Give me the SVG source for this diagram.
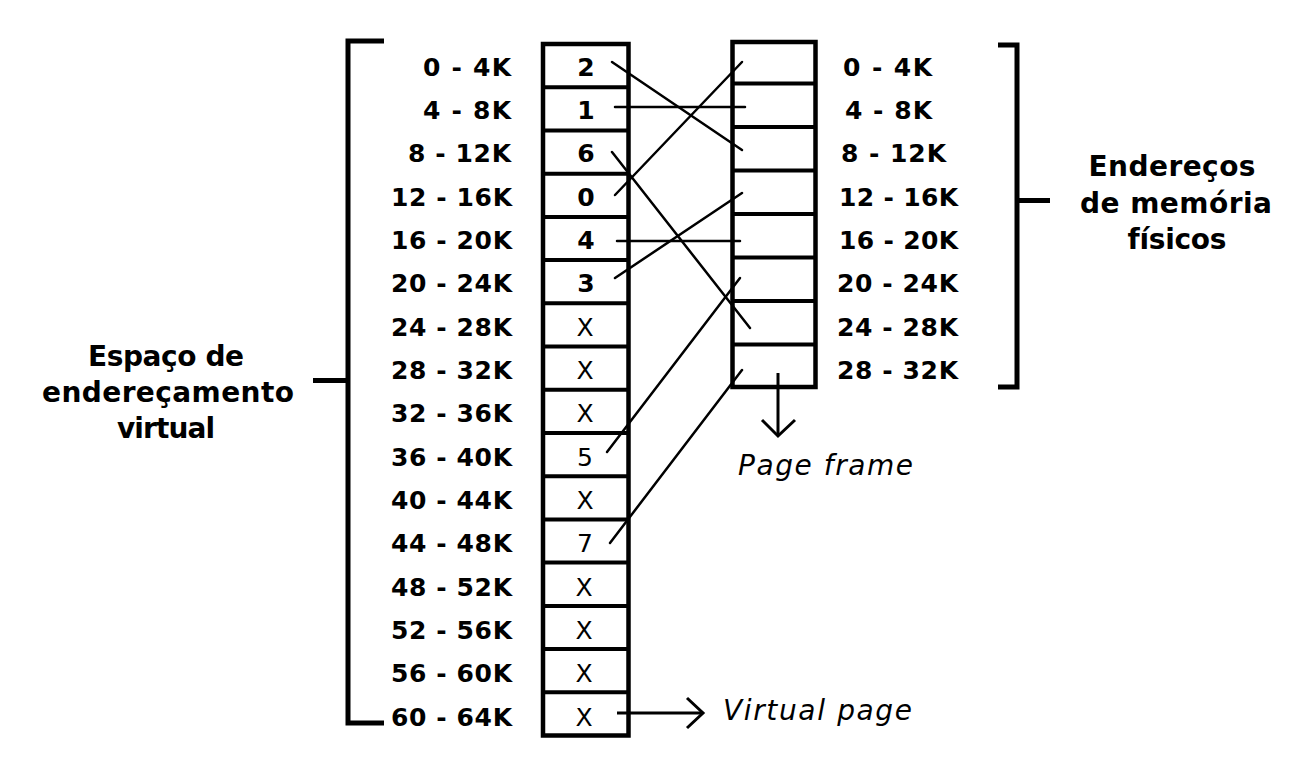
<svg xmlns="http://www.w3.org/2000/svg" width="1315" height="761" viewBox="0 0 1315 761">
<style>
text{font-family:"DejaVu Sans","Liberation Sans",sans-serif;fill:#000}
.lbl{font-size:25px;font-weight:bold}
.num{font-size:25px;font-weight:bold;text-anchor:middle}
.xn{font-size:25px;font-weight:normal;text-anchor:middle}
.side{font-size:28px;font-weight:bold;text-anchor:middle}
.it{font-size:28px;font-style:italic}
.box{fill:#fff;stroke:#000;stroke-width:4.5}
.row{stroke:#000;stroke-width:4}
.br{fill:none;stroke:#000;stroke-width:5}
.con{fill:none;stroke:#000;stroke-width:2.5;stroke-linecap:round}
.arr{fill:none;stroke:#000;stroke-width:3}
</style>
<rect width="1315" height="761" fill="#fff"/>

<g id="virtual-space">
  <path class="br" d="M384,41 H348 V723 H384"/>
  <path class="br" d="M313,380.5 H348"/>
  <text class="side" x="166" y="366" textLength="156" lengthAdjust="spacing">Espaço de</text>
  <text class="side" x="168" y="402" textLength="252" lengthAdjust="spacing">endereçamento</text>
  <text class="side" x="166" y="438" textLength="98" lengthAdjust="spacing">virtual</text>
</g>

<g id="virtual-labels">
  <text class="lbl" x="423" y="75.5" textLength="88" lengthAdjust="spacing">0 - 4K</text>
  <text class="lbl" x="423" y="118.8" textLength="88" lengthAdjust="spacing">4 - 8K</text>
  <text class="lbl" x="408" y="162.2" textLength="103" lengthAdjust="spacing">8 - 12K</text>
  <text class="lbl" x="391" y="205.5" textLength="121" lengthAdjust="spacing">12 - 16K</text>
  <text class="lbl" x="391" y="248.8" textLength="121" lengthAdjust="spacing">16 - 20K</text>
  <text class="lbl" x="391" y="292.2" textLength="121" lengthAdjust="spacing">20 - 24K</text>
  <text class="lbl" x="391" y="335.5" textLength="121" lengthAdjust="spacing">24 - 28K</text>
  <text class="lbl" x="391" y="378.8" textLength="121" lengthAdjust="spacing">28 - 32K</text>
  <text class="lbl" x="391" y="422.1" textLength="121" lengthAdjust="spacing">32 - 36K</text>
  <text class="lbl" x="391" y="465.5" textLength="121" lengthAdjust="spacing">36 - 40K</text>
  <text class="lbl" x="391" y="508.8" textLength="121" lengthAdjust="spacing">40 - 44K</text>
  <text class="lbl" x="391" y="552.1" textLength="121" lengthAdjust="spacing">44 - 48K</text>
  <text class="lbl" x="391" y="595.5" textLength="121" lengthAdjust="spacing">48 - 52K</text>
  <text class="lbl" x="391" y="638.8" textLength="121" lengthAdjust="spacing">52 - 56K</text>
  <text class="lbl" x="391" y="682.1" textLength="121" lengthAdjust="spacing">56 - 60K</text>
  <text class="lbl" x="391" y="725.5" textLength="121" lengthAdjust="spacing">60 - 64K</text>
</g>

<g id="virtual-table">
  <rect class="box" x="543" y="44" width="85.5" height="691.5"/>
  <path class="row" d="M543,87.2H628.5M543,130.4H628.5M543,173.7H628.5M543,216.9H628.5M543,260.1H628.5M543,303.3H628.5M543,346.5H628.5M543,389.8H628.5M543,433H628.5M543,476.2H628.5M543,519.4H628.5M543,562.6H628.5M543,605.9H628.5M543,649.1H628.5M543,692.3H628.5"/>
  <text class="num" x="586" y="75.5">2</text>
  <text class="num" x="586" y="118.8">1</text>
  <text class="num" x="586" y="162.2">6</text>
  <text class="num" x="586" y="205.5">0</text>
  <text class="num" x="586" y="248.8">4</text>
  <text class="num" x="586" y="292.2">3</text>
  <text class="xn" x="585" y="335.5">X</text>
  <text class="xn" x="585" y="378.8">X</text>
  <text class="xn" x="585" y="422.1">X</text>
  <text class="xn" x="585" y="465.5">5</text>
  <text class="xn" x="585" y="508.8">X</text>
  <text class="xn" x="585" y="552.1">7</text>
  <text class="xn" x="584" y="595.5">X</text>
  <text class="xn" x="584" y="638.8">X</text>
  <text class="xn" x="584" y="682.1">X</text>
  <text class="xn" x="584" y="725.5">X</text>
</g>

<g id="physical-table">
  <rect class="box" x="732.5" y="42" width="83" height="345"/>
  <path class="row" d="M732.5,83.5H815.5M732.5,127H815.5M732.5,170.5H815.5M732.5,214H815.5M732.5,257.5H815.5M732.5,301H815.5M732.5,344.5H815.5"/>
</g>

<g id="physical-labels">
  <text class="lbl" x="843" y="75.5" textLength="89" lengthAdjust="spacing">0 - 4K</text>
  <text class="lbl" x="845" y="118.8" textLength="87" lengthAdjust="spacing">4 - 8K</text>
  <text class="lbl" x="841" y="162.2" textLength="105" lengthAdjust="spacing">8 - 12K</text>
  <text class="lbl" x="839" y="205.5" textLength="119" lengthAdjust="spacing">12 - 16K</text>
  <text class="lbl" x="839" y="248.8" textLength="119" lengthAdjust="spacing">16 - 20K</text>
  <text class="lbl" x="837" y="292.2" textLength="121" lengthAdjust="spacing">20 - 24K</text>
  <text class="lbl" x="837" y="335.5" textLength="121" lengthAdjust="spacing">24 - 28K</text>
  <text class="lbl" x="837" y="378.8" textLength="121" lengthAdjust="spacing">28 - 32K</text>
</g>

<g id="physical-space">
  <path class="br" d="M998,45 H1017 V387 H998"/>
  <path class="br" d="M1017,200.5 H1050"/>
  <text class="side" x="1172" y="176" textLength="167" lengthAdjust="spacing">Endereços</text>
  <text class="side" x="1176" y="213" textLength="192" lengthAdjust="spacing">de memória</text>
  <text class="side" x="1177" y="249" textLength="99" lengthAdjust="spacing">físicos</text>
</g>

<g id="connectors">
  <line class="con" x1="612" y1="62" x2="742" y2="150"/>
  <line class="con" x1="615" y1="107" x2="745" y2="107"/>
  <line class="con" x1="612" y1="152" x2="750" y2="328"/>
  <line class="con" x1="615" y1="195" x2="742" y2="62"/>
  <line class="con" x1="617" y1="241" x2="740" y2="241"/>
  <line class="con" x1="615" y1="278" x2="742" y2="193"/>
  <line class="con" x1="607" y1="452" x2="740" y2="278"/>
  <line class="con" x1="610" y1="543" x2="742" y2="370"/>
</g>

<g id="page-frame-label">
  <line class="arr" x1="778" y1="373" x2="778" y2="436"/>
  <polyline class="arr" points="762,420 778,436 795,420"/>
  <text class="it" x="738" y="475" textLength="175" lengthAdjust="spacing">Page frame</text>
</g>

<g id="virtual-page-label">
  <line class="arr" x1="617" y1="713" x2="703" y2="713"/>
  <polyline class="arr" points="687,698 703,713 687,728"/>
  <text class="it" x="723" y="720" textLength="189" lengthAdjust="spacing">Virtual page</text>
</g>
</svg>
